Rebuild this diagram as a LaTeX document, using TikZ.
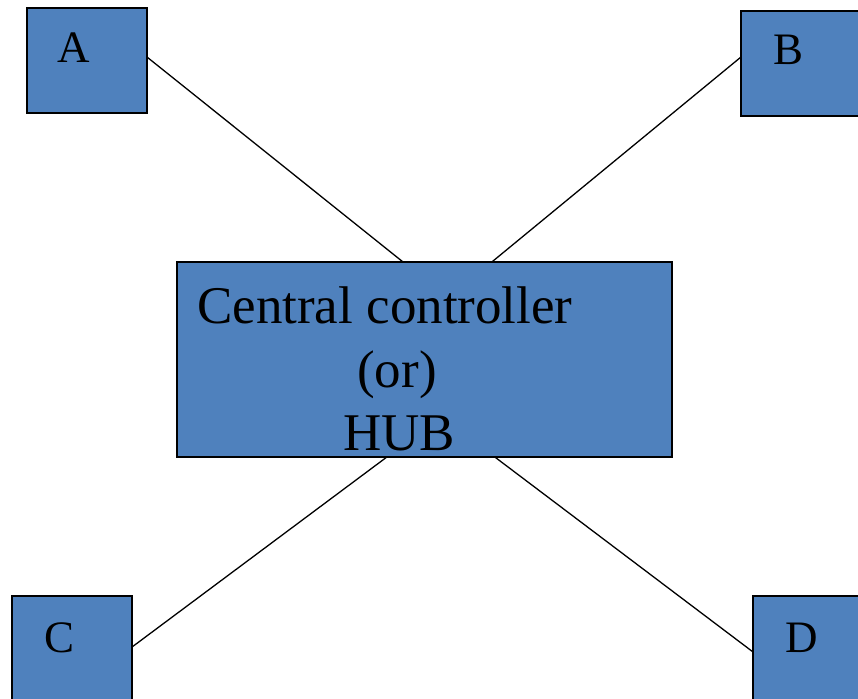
\documentclass[tikz,border=0pt]{standalone}
\usepackage{fontspec}
\setmainfont{Liberation Serif}
\usetikzlibrary{calc}
\definecolor{boxblue}{HTML}{4F81BD}
\begin{document}
\begin{tikzpicture}[x=1pt,y=-1pt,
  box/.style={draw=black, line width=1.3pt, fill=boxblue, inner sep=0pt, outer sep=0pt, anchor=north west},
  station/.style={box, minimum width=120pt, minimum height=105pt},
  tag/.style={anchor=base west, inner sep=0pt, font=\fontsize{45}{54}\selectfont},
  hubtext/.style={anchor=base west, inner sep=0pt, font=\fontsize{53}{63}\selectfont},
  link/.style={draw=black, line width=1.3pt}]
\useasboundingbox (0,0) rectangle (858,698);

% central hub
\node[box, minimum width=495pt, minimum height=195pt] (hub) at (177,262) {};
\node[hubtext] (l1) at (197,323) {Central controller};
\node[hubtext] (l2) at (357,387) {(or)};
\node[hubtext] (l3) at (343,450) {HUB};

% stations
\node[station] (A) at (27,8) {};
\node[station] (B) at (741,11) {};
\node[station] (C) at (12,596) {};
\node[station] (D) at (753,596) {};
\node[tag] (tA) at (57,63) {A};
\node[tag] (tB) at (773,65) {B};
\node[tag] (tC) at (44,652) {C};
\node[tag] (tD) at (785,652) {D};

% links between the stations and the hub
\draw[link] ($(A.north east)!0.467!(A.south east)$) -- ($(hub.north west)!0.4566!(hub.north east)$);
\draw[link] ($(B.north west)!0.438!(B.south west)$) -- ($(hub.north west)!0.636!(hub.north east)$);
\draw[link] ($(C.north east)!0.486!(C.south east)$) -- ($(hub.south west)!0.424!(hub.south east)$);
\draw[link] ($(D.north west)!0.533!(D.south west)$) -- ($(hub.south west)!0.642!(hub.south east)$);
\end{tikzpicture}
\end{document}
